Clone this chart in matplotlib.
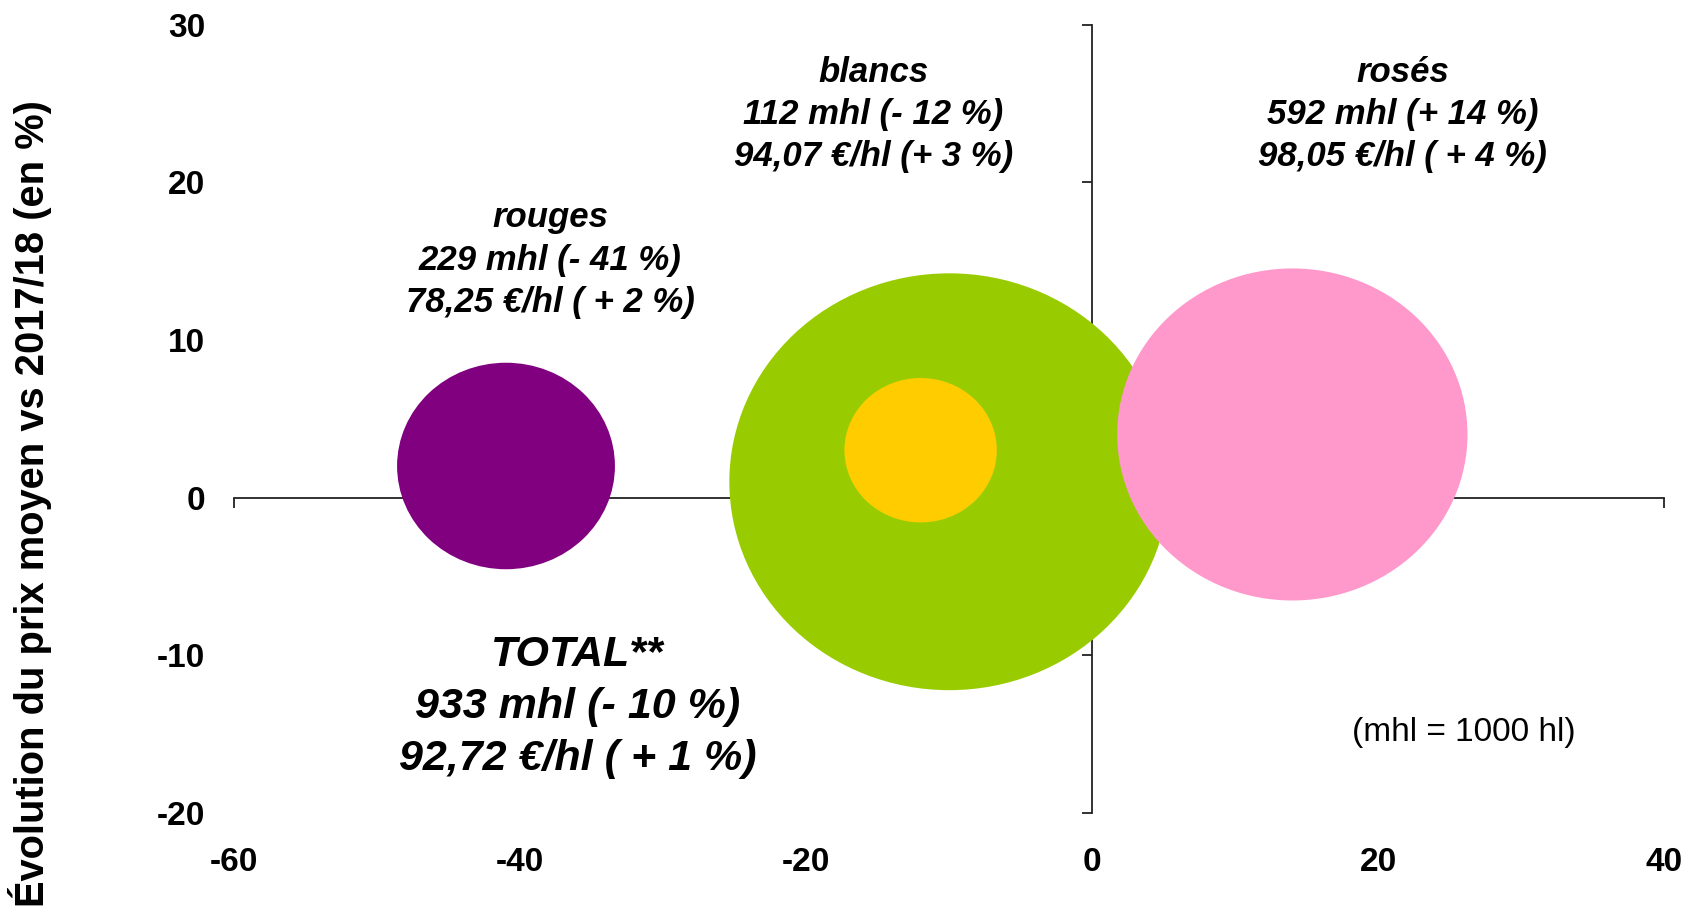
import matplotlib
matplotlib.use("Agg")
import matplotlib.pyplot as plt
from matplotlib.patches import Ellipse
import numpy as np

# data: volume change (%), price change (%), volume (mhl)
names = ["total", "blancs", "rouges", "rosés"]
vol_change = [-10, -12, -41, 14]
price_change = [1, 3, 2, 4]
volumes = [933, 112, 229, 592]
colors = ["#99CC00", "#FFCC00", "#800080", "#FF99CC"]

labels = [
    "TOTAL**\n933 mhl (- 10 %)\n92,72 €/hl ( + 1 %)",
    "blancs\n112 mhl (- 12 %)\n94,07 €/hl (+ 3 %)",
    "rouges\n229 mhl (- 41 %)\n78,25 €/hl ( + 2 %)",
    "rosés\n592 mhl (+ 14 %)\n98,05 €/hl ( + 4 %)",
]
# where each label block sits (data units)
label_pos = [(-36.0, -13.3), (-15.3, 24.3), (-37.9, 15.05), (21.7, 24.3)]
label_size = [31, 25, 25, 25]
label_spacing = [1.4, 1.36, 1.36, 1.36]

xticks = [-60, -40, -20, 0, 20, 40]
yticks = [-20, -10, 0, 10, 20, 30]

plt.rcParams['font.family'] = ['Liberation Sans', 'DejaVu Sans']
plt.rcParams['axes.unicode_minus'] = False

fig = plt.figure(figsize=(16.86, 9.06), dpi=100)
rect = [0.139, 0.103, 0.848, 0.8697]
ax = fig.add_axes(rect)
ax.set_xlim(-60, 40)
ax.set_ylim(-20, 30)

# axes crossing at zero
ax.spines['left'].set_position(('data', 0))
ax.spines['bottom'].set_position(('data', 0))
ax.spines['right'].set_visible(False)
ax.spines['top'].set_visible(False)
for s in ['left', 'bottom']:
    ax.spines[s].set_linewidth(1.3)
    ax.spines[s].set_color('#222222')
    ax.spines[s].set_zorder(0.5)
ax.set_xticks(xticks)
ax.set_yticks(yticks)
ax.tick_params(direction='out', length=7, width=1.3, color='#222222',
               labelleft=False, labelbottom=False)

# bubbles: area proportional to volume
for i in range(len(names)):
    d = np.sqrt(volumes[i])
    e = Ellipse((vol_change[i], price_change[i]), width=d * 1.007, height=d * 0.866,
                facecolor=colors[i], edgecolor='none', zorder=2 + i)
    ax.add_patch(e)

for i in range(len(names)):
    ax.text(label_pos[i][0], label_pos[i][1], labels[i], ha='center', va='center',
            fontsize=label_size[i], fontweight='bold', fontstyle='italic',
            linespacing=label_spacing[i], zorder=10)

ax.text(26.0, -14.9, "(mhl = 1000 hl)", ha='center', va='center', fontsize=24, zorder=10)

# tick labels at the outer edges
ax2 = fig.add_axes(rect, sharex=ax, sharey=ax)
ax2.patch.set_visible(False)
for s in ax2.spines.values():
    s.set_visible(False)
ax2.tick_params(length=0, labelsize=24)
ax2.tick_params(axis='y', pad=21)
ax2.tick_params(axis='x', pad=25)
for lab in ax2.get_xticklabels() + ax2.get_yticklabels():
    lab.set_fontweight('bold')

fig.text(0.0178, 0.444, "Évolution du prix moyen vs 2017/18 (en %)", rotation=90,
         ha='center', va='center', fontsize=28.7, fontweight='bold')

fig.savefig("out.png", dpi=100)
